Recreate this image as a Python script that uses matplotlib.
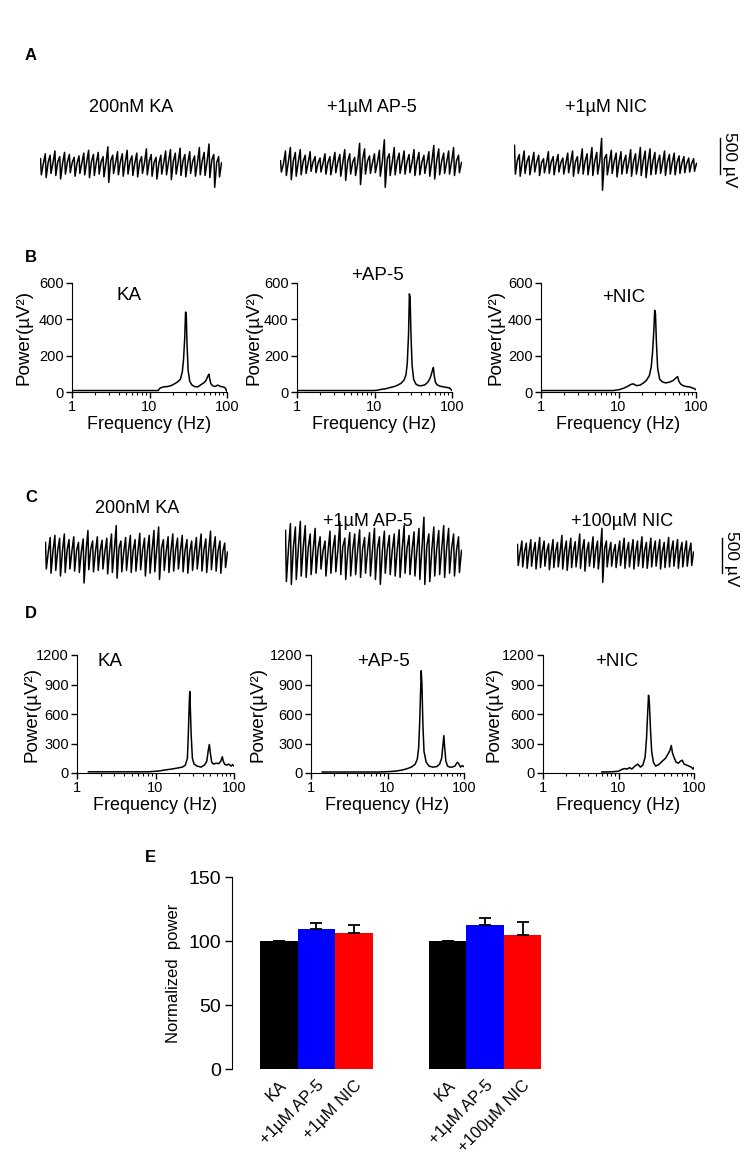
import matplotlib
matplotlib.use('Agg')
import matplotlib.pyplot as plt
import numpy as np
from matplotlib.ticker import LogLocator, NullFormatter

# ---------------- data ----------------
# Panel A traces (per-cycle peak / trough amplitude, µV)
A1_peaks = [90, 160, 140, 200, 120, 180, 150, 110, 130, 170, 210, 150, 180, 120, 260, 140, 190, 160, 210, 130, 170, 120, 230, 150, 110, 140, 200, 220, 170, 240, 150, 190, 130, 250, 180, 300, 150, 120]
A1_troughs = [-140, -180, -120, -150, -200, -130, -110, -160, -120, -140, -180, -150, -130, -170, -250, -120, -140, -160, -130, -150, -170, -120, -140, -160, -200, -130, -140, -210, -130, -150, -170, -120, -160, -140, -150, -180, -320, -170]
A2_peaks = [60, 200, 250, 180, 220, 140, 190, 120, 100, 160, 120, 180, 150, 220, 160, 110, 310, 230, 130, 160, 210, 360, 160, 250, 170, 200, 150, 220, 180, 140, 190, 280, 230, 170, 200, 250, 140]
A2_troughs = [-100, -150, -210, -160, -140, -120, -90, -110, -100, -130, -140, -110, -160, -220, -130, -150, -280, -130, -120, -110, -160, -320, -150, -140, -120, -130, -110, -150, -140, -120, -160, -200, -140, -120, -130, -150, -110]
A3_peaks = [280, 150, 200, 130, 180, 140, 90, 190, 120, 150, 100, 170, 200, 120, 230, 160, 250, 180, 380, 150, 210, 170, 190, 140, 220, 160, 250, 200, 230, 180, 140, 200, 150, 170, 130, 120, 100, 90]
A3_troughs = [-130, -160, -120, -140, -100, -150, -110, -120, -140, -100, -130, -110, -160, -120, -130, -140, -150, -130, -360, -140, -120, -170, -130, -120, -160, -130, -150, -180, -140, -130, -120, -150, -130, -140, -120, -110, -100, -90]
A_titles = ['200nM KA', '+1µM AP-5', '+1µM NIC']

# Panel C traces
C1_peaks = [180, 250, 280, 240, 300, 220, 260, 180, 230, 350, 200, 260, 210, 240, 300, 420, 200, 250, 280, 220, 310, 240, 280, 350, 400, 220, 260, 300, 240, 280, 220, 200, 250, 300, 230, 340, 260, 200, 170]
C1_troughs = [-200, -260, -220, -300, -250, -200, -230, -250, -400, -210, -240, -220, -200, -270, -250, -330, -240, -220, -250, -230, -210, -300, -260, -240, -350, -220, -250, -230, -200, -240, -260, -220, -200, -230, -250, -210, -230, -260, -180]
C2_peaks = [350, 450, 400, 480, 420, 300, 380, 260, 200, 340, 280, 480, 240, 320, 300, 360, 250, 320, 380, 260, 340, 280, 300, 360, 420, 280, 330, 380, 540, 300, 400, 350, 420, 380, 300, 260]
C2_troughs = [-380, -420, -350, -300, -320, -280, -260, -200, -300, -260, -240, -280, -350, -300, -280, -320, -260, -300, -350, -420, -260, -280, -300, -320, -260, -280, -300, -350, -420, -380, -300, -280, -320, -260, -300, -250]
C3_peaks = [150, 200, 170, 220, 180, 250, 200, 160, 220, 180, 280, 200, 240, 190, 300, 220, 180, 260, 200, 380, 200, 180, 150, 200, 240, 180, 220, 200, 260, 180, 240, 200, 220, 180, 250, 200, 220, 180, 200, 170]
C3_troughs = [-150, -170, -190, -160, -200, -180, -160, -210, -180, -170, -200, -220, -180, -170, -190, -230, -160, -180, -200, -390, -170, -160, -180, -150, -190, -170, -200, -160, -180, -190, -170, -160, -200, -180, -170, -160, -190, -170, -160, -150]
C_titles = ['200nM KA', '+1µM AP-5', '+100µM NIC']
scale_bar_uV = 500

# Panel B spectra (Hz, µV²)
B_KA_f = [1, 5, 10, 13, 13.5, 15, 17, 19, 21, 23, 25, 26.5, 27.5, 28.5, 29.2, 29.8, 30.5, 31.5, 33, 35, 38, 42, 46, 50, 53, 55, 57, 58.5, 60, 62, 65, 70, 76, 83, 90, 95, 99]
B_KA_p = [8, 8, 8, 8, 20, 28, 30, 35, 45, 55, 70, 110, 180, 300, 440, 430, 260, 120, 60, 40, 30, 28, 40, 50, 60, 75, 90, 98, 70, 45, 35, 30, 38, 30, 28, 22, 5]
B_AP5_f = [1, 5, 10, 11, 12, 14, 16, 18, 20, 22, 24, 25.5, 26.5, 27.5, 28.2, 28.8, 29.5, 30.5, 32, 34, 37, 41, 45, 49, 52, 54, 56, 57.5, 59, 61, 64, 70, 78, 86, 93, 99]
B_AP5_p = [8, 8, 8, 10, 14, 18, 25, 30, 38, 48, 65, 95, 160, 320, 540, 520, 330, 150, 70, 45, 35, 35, 40, 55, 75, 95, 120, 135, 90, 55, 40, 32, 28, 25, 22, 10]
B_NIC_f = [1, 5, 8.5, 10, 11.5, 13, 14.5, 15.5, 17, 19, 21, 23, 25, 26.5, 27.5, 28.5, 29.3, 30, 30.8, 32, 34, 37, 41, 46, 50, 53, 56, 58, 60, 63, 68, 75, 83, 90, 96, 100]
B_NIC_p = [8, 8, 8, 12, 20, 30, 42, 45, 35, 38, 50, 65, 90, 140, 220, 330, 450, 430, 280, 130, 70, 55, 50, 55, 62, 70, 80, 85, 60, 45, 35, 30, 28, 22, 18, 12]
B_yticks = [0, 200, 400, 600]

# Panel D spectra
D_KA_f = [1.4, 3, 6, 8, 11, 13, 16, 19, 22, 24, 25.5, 26.2, 26.8, 27.3, 27.8, 28.5, 29.5, 31, 34, 38, 42, 45, 47, 48.5, 50, 52, 55, 59, 64, 68, 71, 73, 76, 80, 86, 92, 96, 100]
D_KA_p = [12, 12, 12, 12, 20, 30, 40, 50, 60, 80, 150, 400, 660, 830, 650, 380, 150, 90, 70, 60, 80, 120, 230, 290, 200, 110, 90, 100, 95, 120, 165, 120, 90, 80, 90, 70, 85, 70]
D_AP5_f = [1.4, 4, 8, 11, 13, 15, 17, 19, 21, 23, 24.5, 25.5, 26.3, 27, 27.6, 28.2, 29, 30, 32, 35, 39, 44, 48, 51, 53, 54.5, 56, 58, 61, 65, 70, 76, 82, 86, 90, 95, 100]
D_AP5_p = [10, 10, 10, 15, 20, 28, 38, 50, 65, 90, 140, 250, 500, 800, 1040, 900, 500, 220, 110, 70, 60, 65, 90, 150, 280, 380, 250, 120, 70, 60, 60, 70, 110, 90, 60, 75, 65]
D_NIC_f = [6, 8, 10, 11, 12, 13, 14, 15, 16.5, 18, 19.5, 21, 22.5, 23.5, 24.3, 25, 25.7, 26.5, 27.5, 29, 31, 34, 38, 42, 45, 48, 50, 52, 55, 58, 62, 66, 70, 74, 80, 86, 92, 97, 100]
D_NIC_p = [10, 12, 18, 35, 45, 40, 55, 40, 70, 90, 60, 80, 160, 350, 600, 790, 700, 450, 220, 110, 70, 85, 120, 150, 190, 230, 280, 200, 150, 110, 100, 120, 130, 90, 80, 70, 60, 40, 55]
D_yticks = [0, 300, 600, 900, 1200]
spec_titles = ['KA', '+AP-5', '+NIC']

# Panel E
E_labels = ['KA', '+1µM AP-5', '+1µM NIC', 'KA', '+1µM AP-5', '+100µM NIC']
E_values = [100, 109.5, 106, 100, 112.6, 104.6]
E_errors = [0, 4.2, 6.3, 0, 5.5, 10.5]
E_colors = ['#000000', '#0000ff', '#ff0000', '#000000', '#0000ff', '#ff0000']
E_positions = [0, 1, 2, 4.5, 5.5, 6.5]
E_yticks = [0, 50, 100, 150]

# ---------------- figure ----------------
W, H = 749, 1159
plt.rcParams['font.family'] = ['Liberation Sans', 'DejaVu Sans']
fig = plt.figure(figsize=(W / 100, H / 100), dpi=100)
fig.patch.set_facecolor('white')


def add_ax(x0, y0, x1, y1):
    return fig.add_axes([x0 / W, 1 - y1 / H, (x1 - x0) / W, (y1 - y0) / H])


def ftext(x, y, s, **kw):
    fig.text(x / W, 1 - y / H, s, **kw)


PX_PER_UV = 35.0 / 500.0


def trace(x0, x1, y0, y1, yc, peaks, troughs):
    ax = add_ax(x0, y0, x1, y1)
    t, v = [], []
    for i, (pk, tr) in enumerate(zip(peaks, troughs)):
        t += [i, i + 0.18, i + 0.6]
        v += [pk, tr, 0.25 * pk]
    ax.plot(t, v, color='black', lw=1.1)
    ax.set_xlim(-0.1, len(peaks) - 0.3)
    ax.set_ylim(-(y1 - yc) / PX_PER_UV, (yc - y0) / PX_PER_UV)
    ax.axis('off')
    return ax


def scalebar(x, yc, y0, y1):
    ax = add_ax(x - 5, y0, x + 5, y1)
    ax.plot([0, 0], [-scale_bar_uV / 2, scale_bar_uV / 2], color='black', lw=1.0)
    ax.set_xlim(-1, 1)
    ax.set_ylim(-(y1 - yc) / PX_PER_UV, (yc - y0) / PX_PER_UV)
    ax.axis('off')
    ftext(x + 10, yc + 4, '500 µV', rotation=-90, ha='center', va='center', fontsize=12.5)


def spectrum(box, f, p, yticks, title, tpos, ylab_x):
    ax = add_ax(*box)
    ax.plot(f, p, color='black', lw=1.1)
    ax.set_xscale('log')
    ax.set_xlim(1, 100)
    ax.set_ylim(0, yticks[-1])
    ax.set_yticks(yticks)
    ax.set_xticks([1, 10, 100])
    ax.set_xticklabels(['1', '10', '100'])
    ax.xaxis.set_minor_locator(LogLocator(base=10, subs=np.arange(2, 10)))
    ax.xaxis.set_minor_formatter(NullFormatter())
    for s in ['top', 'right']:
        ax.spines[s].set_visible(False)
    ax.tick_params(direction='out', length=4, width=1, labelsize=10.5, pad=2)
    ax.tick_params(which='minor', length=2.5, width=0.8)
    ax.set_xlabel('Frequency (Hz)', fontsize=13, labelpad=1)
    ax.set_ylabel('Power(µV²)', fontsize=13.5)
    ax.yaxis.set_label_coords((ylab_x + 9 - box[0]) / (box[2] - box[0]), 0.5)
    ftext(tpos[0], tpos[1], title, ha='center', va='center', fontsize=13.5)
    return ax


# Panel letters
for lab, (x, y) in zip('ABCDE', [(31, 55), (31, 257), (31, 498), (31, 613), (150, 858)]):
    ftext(x, y, lab, fontsize=12, fontweight='bold', ha='center', va='center')

# Panel A
A_data = [(A1_peaks, A1_troughs), (A2_peaks, A2_troughs), (A3_peaks, A3_troughs)]
A_x = [(40, 222), (280, 462), (514, 697)]
A_tx = [131, 372, 606]
for (pk, tr), (x0, x1), tx, ttl in zip(A_data, A_x, A_tx, A_titles):
    trace(x0, x1, 120, 210, 165, pk, tr)
    ftext(tx, 108, ttl, ha='center', va='center', fontsize=13)
scalebar(720, 156, 120, 210)

# Panel B
B_boxes = [(72, 283, 227, 392), (297, 283, 452, 392), (541, 283, 696, 392)]
B_data = [(B_KA_f, B_KA_p), (B_AP5_f, B_AP5_p), (B_NIC_f, B_NIC_p)]
B_tpos = [(129, 295), (378, 276), (624, 298)]
B_ylx = [24, 254, 495]
for box, (f, p), tp, ttl, ylx in zip(B_boxes, B_data, B_tpos, spec_titles, B_ylx):
    spectrum(box, f, p, B_yticks, ttl, tp, ylx)

# Panel C
C_data = [(C1_peaks, C1_troughs), (C2_peaks, C2_troughs), (C3_peaks, C3_troughs)]
C_x = [(45, 228), (285, 462), (517, 694)]
C_tpos = [(137, 508), (368, 522), (622, 522)]
for (pk, tr), (x0, x1), tp, ttl in zip(C_data, C_x, C_tpos, C_titles):
    trace(x0, x1, 505, 605, 555, pk, tr)
    ftext(tp[0], tp[1], ttl, ha='center', va='center', fontsize=13)
scalebar(722, 555, 505, 605)

# Panel D
D_boxes = [(77, 655, 234, 773), (311, 655, 464, 773), (543, 655, 694, 773)]
D_data = [(D_KA_f, D_KA_p), (D_AP5_f, D_AP5_p), (D_NIC_f, D_NIC_p)]
D_tpos = [(110, 662), (383, 662), (617, 662)]
D_ylx = [31, 258, 493]
for box, (f, p), tp, ttl, ylx in zip(D_boxes, D_data, D_tpos, spec_titles, D_ylx):
    spectrum(box, f, p, D_yticks, ttl, tp, ylx)

# Panel E
axE = add_ax(232, 877, 560, 1069)
axE.bar(E_positions, E_values, width=1.0, color=E_colors, edgecolor='none', zorder=2)
axE.errorbar(E_positions, E_values, yerr=[np.zeros(len(E_errors)), E_errors], fmt='none',
             ecolor='black', elinewidth=1.3, capsize=4, capthick=1.3, zorder=3)
axE.set_xlim(-1.25, 7.5)
axE.set_ylim(0, 150)
axE.set_yticks(E_yticks)
axE.set_xticks(E_positions)
axE.set_xticklabels(E_labels, rotation=45, ha='right', va='top', rotation_mode='anchor', fontsize=12)
for s in ['top', 'right', 'bottom']:
    axE.spines[s].set_visible(False)
axE.tick_params(axis='y', direction='out', length=5, width=1, labelsize=14, pad=3)
axE.tick_params(axis='x', length=0, pad=6)
axE.set_ylabel('Normalized  power', fontsize=12)
axE.yaxis.set_label_coords((181 - 232) / (560 - 232), 0.5)

fig.savefig('out.png', dpi=100, facecolor='white')
